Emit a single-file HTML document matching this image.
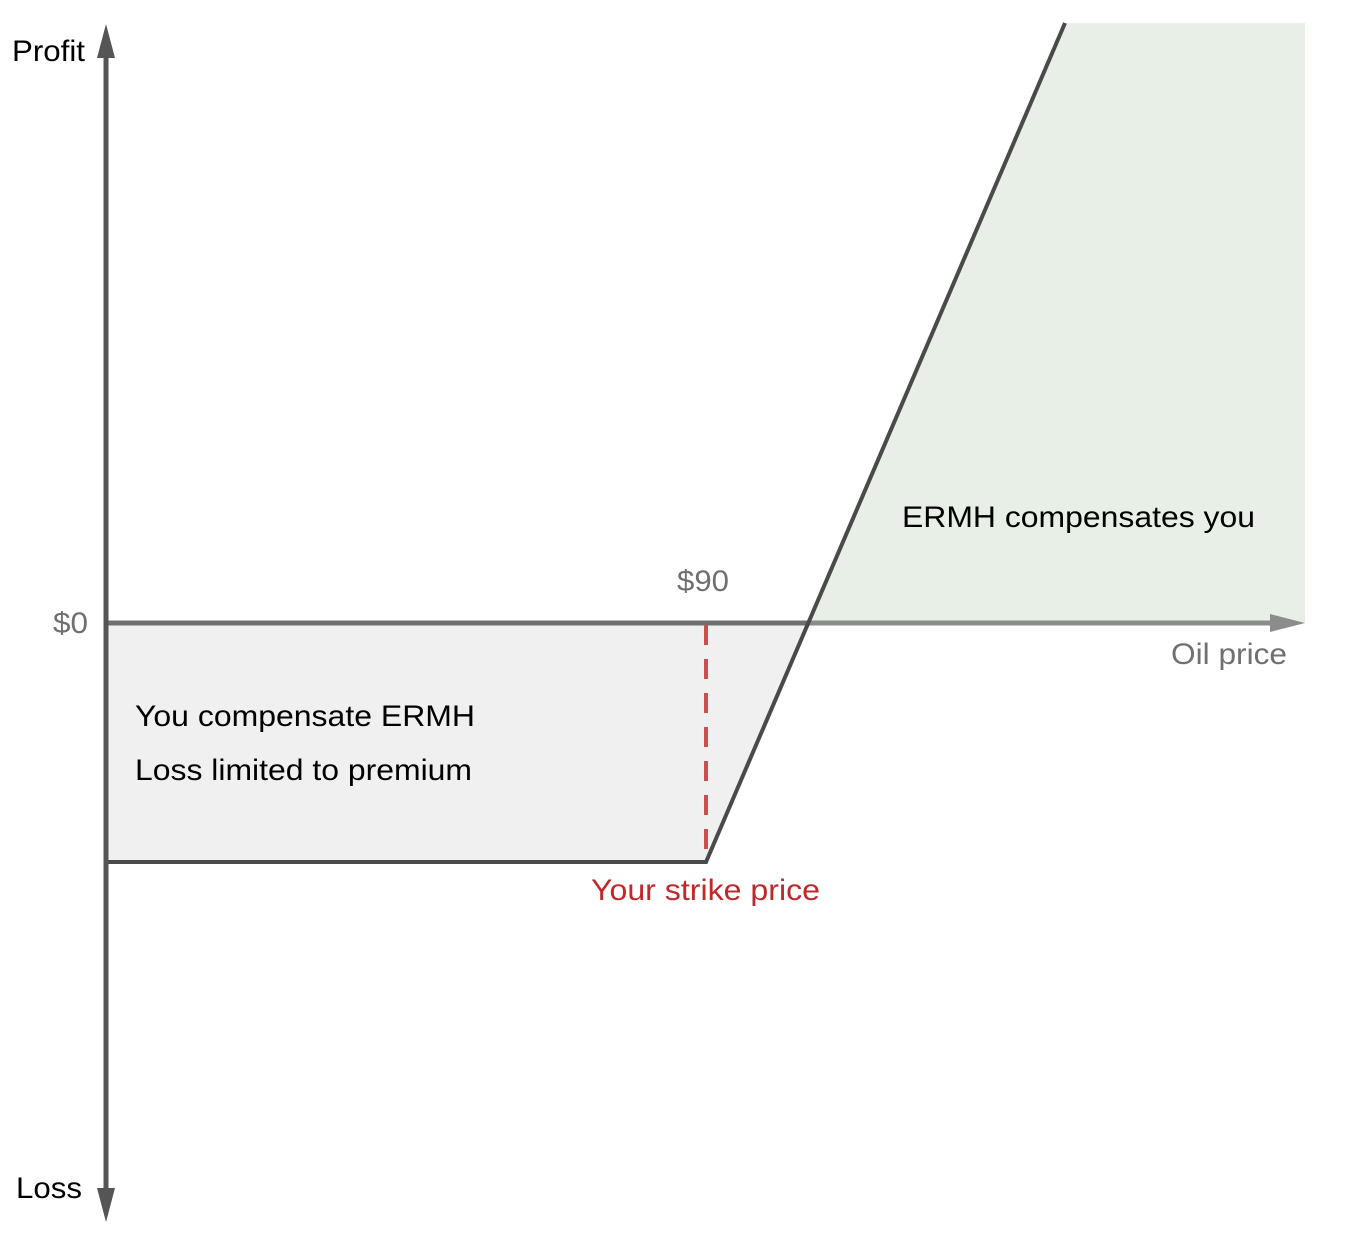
<!DOCTYPE html>
<html><head><meta charset="utf-8"><style>
html,body{margin:0;padding:0;background:#fff;}
svg{display:block;}
text{font-family:"Liberation Sans",Arial,sans-serif;}
</style></head><body>
<svg width="1346" height="1246" viewBox="0 0 1346 1246" xmlns="http://www.w3.org/2000/svg">
<polygon points="808,623 1065,23 1305,23 1305,623" fill="#e7efe6"/>
<polygon points="106,623 808,623 706,862 106,862" fill="#f0f0f0"/>
<line x1="808" y1="623" x2="1275" y2="623" stroke="#8c8c8c" stroke-width="5"/>
<polygon points="1270,614 1305,623 1270,632" fill="#8c8c8c"/>
<line x1="106" y1="623" x2="810" y2="623" stroke="#6f6f6f" stroke-width="5"/>
<line x1="706" y1="625" x2="706" y2="862" stroke="#c9504f" stroke-width="4" stroke-dasharray="20,14"/>
<polyline points="106,862 706,862 1065,23" fill="none" stroke="#4a4a4a" stroke-width="4"/>
<line x1="106" y1="55" x2="106" y2="1192" stroke="#555" stroke-width="5"/>
<polygon points="97,58 106,24 115,58" fill="#555"/>
<polygon points="97,1188 106,1222 115,1188" fill="#555"/>
<g font-size="30" lengthAdjust="spacingAndGlyphs">
<text x="12" y="61" fill="#000" textLength="73" lengthAdjust="spacingAndGlyphs">Profit</text>
<text x="16" y="1198" fill="#000" textLength="66" lengthAdjust="spacingAndGlyphs">Loss</text>
<text x="53" y="633" fill="#707070" textLength="35" lengthAdjust="spacingAndGlyphs">$0</text>
<text x="677" y="591" fill="#707070" textLength="52" lengthAdjust="spacingAndGlyphs">$90</text>
<text x="1171" y="664" fill="#707070" textLength="116" lengthAdjust="spacingAndGlyphs">Oil price</text>
<text x="902" y="527" fill="#000" textLength="353" lengthAdjust="spacingAndGlyphs">ERMH compensates you</text>
<text x="135" y="726" fill="#000" textLength="340" lengthAdjust="spacingAndGlyphs">You compensate ERMH</text>
<text x="135" y="780" fill="#000" textLength="337" lengthAdjust="spacingAndGlyphs">Loss limited to premium</text>
<text x="591" y="900" fill="#c0282a" textLength="229" lengthAdjust="spacingAndGlyphs">Your strike price</text>
</g>
</svg>
</body></html>
